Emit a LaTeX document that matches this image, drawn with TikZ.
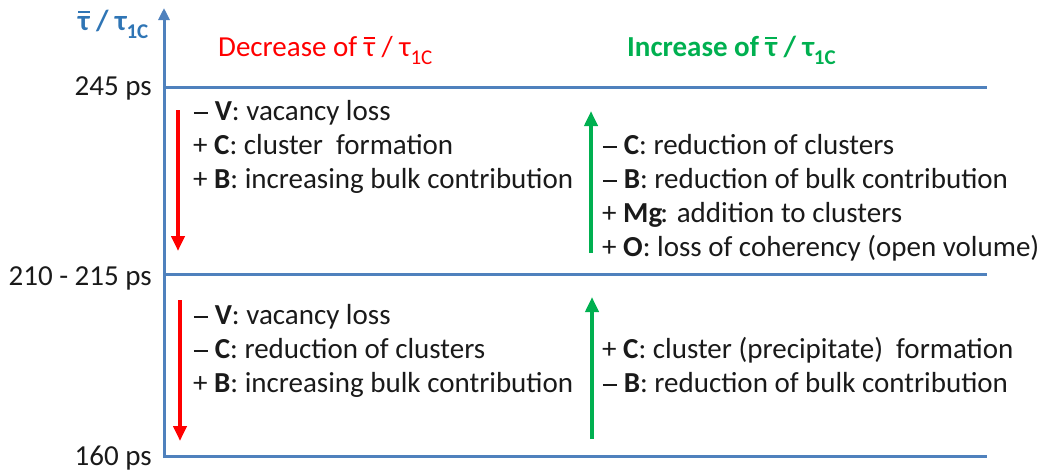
\documentclass[tikz,border=0pt]{standalone}
\usepackage{fontspec}
\setmainfont{Carlito}
\usetikzlibrary{arrows.meta}
\definecolor{axisblue}{HTML}{4F81BD}
\definecolor{lblblue}{HTML}{2F75B5}
\definecolor{myred}{HTML}{FF0000}
\definecolor{mygreen}{HTML}{00B050}
\definecolor{txt}{HTML}{1A1A1A}
\newcommand\taub{\leavevmode\hbox{\ooalign{τ\cr\hidewidth\raisebox{0.6em}{\rule{0.4em}{0.065em}}\hidewidth\cr}}}
\newcommand\tauc{τ\raisebox{-0.28em}{\fontsize{21}{21}\selectfont 1C}}
\newcommand\mns{\kern0.02em\rule[0.23em]{0.48em}{0.055em}\kern0.02em}
\begin{document}
\begin{tikzpicture}[x=1pt,y=-1pt,
  every node/.style={inner sep=0pt, font=\fontsize{29}{34}\selectfont, text=txt},
  hline/.style={draw=axisblue, line width=3pt},
  redarrow/.style={draw=myred, line width=4pt, -{Triangle[width=13pt,length=15pt]}},
  greenarrow/.style={draw=mygreen, line width=4pt, -{Triangle[width=13pt,length=15pt]}},
  block/.style={anchor=north west, align=left},
  lbl/.style={anchor=base east},
]
\useasboundingbox (0,0) rectangle (1040,472);
% axis
\coordinate (ax0) at (164,458);
\coordinate (ax1) at (164,8);
\draw[draw=axisblue, line width=3pt, -{Triangle[width=11pt,length=12pt]}] (ax0) -- (ax1);
% horizontal lines
\coordinate (t0) at (164,87);  \coordinate (t1) at (987,87);
\coordinate (m0) at (164,274); \coordinate (m1) at (987,274);
\coordinate (b0) at (164,456); \coordinate (b1) at (987,456);
\draw[hline] (t0) -- (t1);
\draw[hline] (m0) -- (m1);
\draw[hline] (b0) -- (b1);
% axis labels
\node[anchor=base west, text=lblblue, font=\fontsize{29}{34}\selectfont\bfseries] (ylab) at (78,30) {\taub\ / \tauc};
\node[lbl] (l245) at (152,95) {245 ps};
\node[lbl] (l210) at (152,285) {210 - 215 ps};
\node[lbl] (l160) at (152,465) {160 ps};
% titles
\node[anchor=base west, text=myred] (dec) at (218,56) {Decrease of \taub\ / \tauc};
\node[anchor=base west, text=mygreen, font=\fontsize{29}{34}\selectfont\bfseries] (inc) at (627,56) {Increase of \taub\ / \tauc};
% arrows
\coordinate (r1a) at (178,110); \coordinate (r1b) at (178,251);
\coordinate (r2a) at (180,300); \coordinate (r2b) at (180,441);
\coordinate (g1a) at (591,253); \coordinate (g1b) at (591,111);
\coordinate (g2a) at (592,439); \coordinate (g2b) at (592,297);
\draw[redarrow] (r1a) -- (r1b);
\draw[redarrow] (r2a) -- (r2b);
\draw[greenarrow] (g1a) -- (g1b);
\draw[greenarrow] (g2a) -- (g2b);
% text blocks
\node[block] (tl) at (193,100) {\mns\ \textbf{V}: vacancy loss\\+ \textbf{C}: cluster~ formation\\+ \textbf{B}: increasing bulk contribution};
\node[block] (tr) at (602,134) {\mns\ \textbf{C}: reduction of clusters\\\mns\ \textbf{B}: reduction of bulk contribution\\+ \textbf{Mg}\kern-2pt: addition to clusters\\+ \textbf{O}: loss of coherency (open volume)};
\node[block] (bl) at (193,304) {\mns\ \textbf{V}: vacancy loss\\\mns\ \textbf{C}: reduction of clusters\\+ \textbf{B}: increasing bulk contribution};
\node[block] (br) at (602,337) {+ \textbf{C}: cluster (precipitate)~ formation\\\mns\ \textbf{B}: reduction of bulk contribution};
\end{tikzpicture}
\end{document}
